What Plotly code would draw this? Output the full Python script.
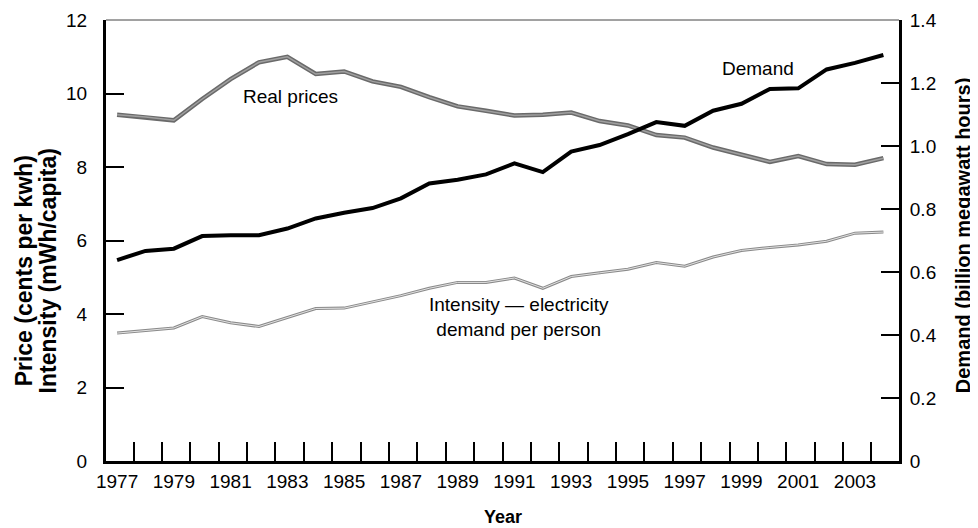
import plotly.graph_objects as go

years = list(range(1977, 2005))

# Real prices (cents per kWh) - left axis
real_prices = [9.42, 9.36, 9.27, 9.85, 10.39, 10.85, 11.0, 10.53, 10.6, 10.33,
               10.18, 9.9, 9.65, 9.53, 9.4, 9.42, 9.48, 9.25, 9.13, 8.87,
               8.8, 8.53, 8.33, 8.14, 8.3, 8.08, 8.06, 8.24]

# Intensity (mWh per capita) - left axis
intensity = [3.48, 3.55, 3.62, 3.93, 3.76, 3.66, 3.91, 4.15, 4.16, 4.33,
             4.5, 4.7, 4.86, 4.86, 4.98, 4.7, 5.02, 5.12, 5.22, 5.4,
             5.3, 5.55, 5.73, 5.81, 5.88, 5.98, 6.2, 6.23]

# Demand (billion megawatt hours) - right axis
demand = [0.638, 0.667, 0.674, 0.714, 0.717, 0.717, 0.738, 0.770, 0.788, 0.803,
          0.834, 0.881, 0.893, 0.910, 0.945, 0.917, 0.982, 1.003, 1.038, 1.076,
          1.064, 1.112, 1.134, 1.181, 1.183, 1.243, 1.264, 1.289]

left_ticks = [0, 2, 4, 6, 8, 10, 12]
right_ticks = [0, 0.2, 0.4, 0.6, 0.8, 1.0, 1.2, 1.4]
right_labels = ["0", "0.2", "0.4", "0.6", "0.8", "1.0", "1.2", "1.4"]
x_labels = list(range(1977, 2004, 2))
x_tick_marks = [y + 0.58 for y in range(1977, 2004)]

FONT = "Arial, Liberation Sans, Helvetica, sans-serif"

fig = go.Figure()

# Real prices: gray band with lighter core
fig.add_trace(go.Scatter(x=years, y=real_prices, mode="lines",
                         line=dict(color="#6a6a6a", width=4.5), yaxis="y",
                         hoverinfo="skip", showlegend=False))
fig.add_trace(go.Scatter(x=years, y=real_prices, mode="lines",
                         line=dict(color="#a0a0a0", width=1.5), yaxis="y",
                         name="Real prices", showlegend=False))

# Intensity: light line with darker edge
fig.add_trace(go.Scatter(x=years, y=intensity, mode="lines",
                         line=dict(color="#8a8a8a", width=3), yaxis="y",
                         hoverinfo="skip", showlegend=False))
fig.add_trace(go.Scatter(x=years, y=intensity, mode="lines",
                         line=dict(color="#e2e2e2", width=1), yaxis="y",
                         name="Intensity", showlegend=False))

# Demand: thick black on right axis
fig.add_trace(go.Scatter(x=years, y=demand, mode="lines",
                         line=dict(color="black", width=4), yaxis="y2",
                         name="Demand", showlegend=False))

# The page body has an 8px default margin, so the figure is drawn at (8, 8)
fig.update_layout(
    width=970, height=520,
    margin=dict(l=98, r=79, t=12, b=67, autoexpand=False),
    paper_bgcolor="white", plot_bgcolor="white",
    font=dict(family=FONT, color="black", size=18),
    showlegend=False,
    xaxis=dict(
        range=[1976.61, 2004.55], automargin=False,
        tickmode="array", tickvals=x_labels, ticktext=[str(v) for v in x_labels],
        ticks="", showgrid=False, zeroline=False,
        showline=True, linecolor="black", linewidth=3,
        tickfont=dict(size=19), ticklabelstandoff=1,
        minor=dict(tickmode="array", tickvals=x_tick_marks, ticks="inside",
                   ticklen=19, tickwidth=1.5, tickcolor="black", showgrid=False),
    ),
    yaxis=dict(
        range=[0, 12], tickmode="array", tickvals=left_ticks, automargin=False,
        ticks="inside", ticklen=18, tickwidth=1.5, tickcolor="black",
        showgrid=False, zeroline=False,
        showline=True, linecolor="black", linewidth=3,
        tickfont=dict(size=19), ticklabelstandoff=12,
    ),
    yaxis2=dict(
        range=[0, 1.4], overlaying="y", side="right", automargin=False,
        tickmode="array", tickvals=right_ticks, ticktext=right_labels,
        ticks="inside", ticklen=18, tickwidth=1.5, tickcolor="black",
        showgrid=False, zeroline=False,
        showline=True, linecolor="black", linewidth=3,
        tickfont=dict(size=19), ticklabelstandoff=4,
    ),
    shapes=[dict(type="line", xref="paper", yref="paper", x0=0, x1=1, y0=1, y1=1,
                 line=dict(color="#444444", width=1))],
    annotations=[
        dict(text="Real prices", x=1983.1, y=9.92, xref="x", yref="y",
             showarrow=False, font=dict(size=19)),
        dict(text="Demand", x=1999.58, y=10.69, xref="x", yref="y",
             showarrow=False, font=dict(size=19)),
        dict(text="Intensity \u2014 electricity<br>demand per person", x=1991.16, y=3.92,
             xref="x", yref="y", showarrow=False, font=dict(size=19), align="center"),
        dict(text="<b>Year</b>", x=0.5, y=-0.127, xref="paper", yref="paper",
             showarrow=False, font=dict(size=18), xanchor="center", yanchor="middle"),
        dict(text="<b>Price (cents per kwh)</b>",
             x=-0.1034, y=0.43, xref="paper", yref="paper", textangle=-90,
             showarrow=False, font=dict(size=23),
             xanchor="center", yanchor="middle"),
        dict(text="<b>Intensity (mWh/capita)</b>",
             x=-0.0731, y=0.43, xref="paper", yref="paper", textangle=-90,
             showarrow=False, font=dict(size=23),
             xanchor="center", yanchor="middle"),
        dict(text="<b>Demand (billion megawatt hours)</b>",
             x=1.081, y=0.5125, xref="paper", yref="paper", textangle=-90,
             showarrow=False, font=dict(size=20),
             xanchor="center", yanchor="middle"),
    ],
)

fig.write_html("out.html")
